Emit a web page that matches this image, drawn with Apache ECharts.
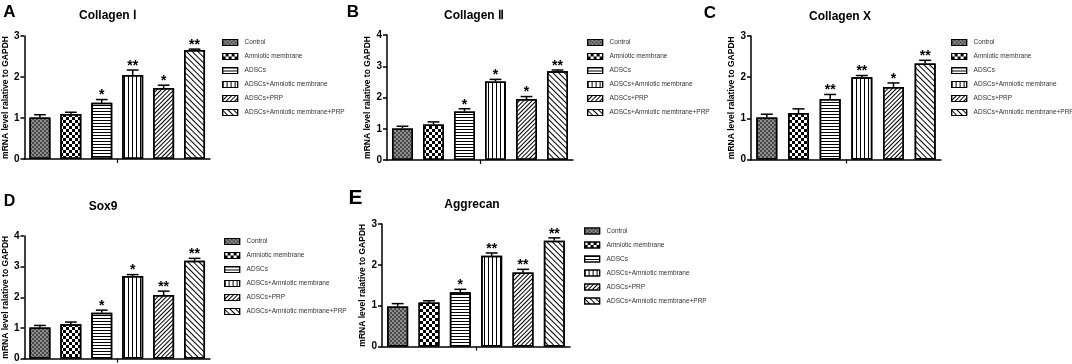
<!DOCTYPE html>
<html><head><meta charset="utf-8">
<script src="https://cdn.jsdelivr.net/npm/echarts@6/dist/echarts.min.js"></script>
<style>html,body{margin:0;padding:0;background:#fff}#c{width:1072px;height:364px}</style>
</head><body><div id="c"></div>
<script>
// ---------- data ----------
const groups = ['Control', 'Amniotic membrane', 'ADSCs', 'ADSCs+Amniotic membrane', 'ADSCs+PRP', 'ADSCs+Amniotic membrane+PRP'];
const panelLetters = ['A', 'B', 'C', 'D', 'E'];
const panelTitles = ['Collagen Ⅰ', 'Collagen Ⅱ', 'Collagen X', 'Sox9', 'Aggrecan'];
const yMaxes = [3, 4, 3, 4, 3];
const yName = 'mRNA level ralative to GAPDH';

const collagen1Mean = [1.01, 1.10, 1.37, 2.05, 1.73, 2.66];
const collagen1Sd   = [0.07, 0.04, 0.08, 0.12, 0.07, 0.02];
const collagen1Sig  = ['', '', '*', '**', '*', '**'];

const collagen2Mean = [1.01, 1.14, 1.55, 2.51, 1.95, 2.84];
const collagen2Sd   = [0.07, 0.08, 0.09, 0.07, 0.08, 0.04];
const collagen2Sig  = ['', '', '*', '*', '*', '**'];

const collagenXMean = [1.02, 1.13, 1.47, 2.00, 1.76, 2.33];
const collagenXSd   = [0.08, 0.10, 0.11, 0.04, 0.10, 0.08];
const collagenXSig  = ['', '', '**', '**', '*', '**'];

const sox9Mean = [1.01, 1.12, 1.49, 2.69, 2.07, 3.19];
const sox9Sd   = [0.07, 0.07, 0.09, 0.05, 0.13, 0.08];
const sox9Sig  = ['', '', '*', '*', '**', '**'];

const aggrecanMean = [0.98, 1.08, 1.33, 2.22, 1.81, 2.59];
const aggrecanSd   = [0.07, 0.04, 0.07, 0.07, 0.08, 0.07];
const aggrecanSig  = ['', '', '*', '**', '**', '**'];

const means = [collagen1Mean, collagen2Mean, collagenXMean, sox9Mean, aggrecanMean];
const sds = [collagen1Sd, collagen2Sd, collagenXSd, sox9Sd, aggrecanSd];
const sigs = [collagen1Sig, collagen2Sig, collagenXSig, sox9Sig, aggrecanSig];

// ---------- layout / style ----------
const FONT = '"Liberation Sans", Arial, sans-serif';
const grids = [
  {left: 23, top: 36, width: 187, height: 123},
  {left: 387, top: 35, width: 186, height: 125},
  {left: 751, top: 36, width: 190, height: 123.5},
  {left: 23, top: 236, width: 187, height: 122.5},
  {left: 382, top: 224, width: 188, height: 122.5}
];
const legendPos = [
  {left: 222, top: 38.5}, {left: 587, top: 38.5}, {left: 951, top: 38.5},
  {left: 224, top: 237.5}, {left: 584, top: 227}
];
const titlePos = [[108, 16], [474, 16], [840, 17], [103, 207], [472, 205]];
const letterPos = [[9.5, 12, 17], [353, 12, 17], [710, 13, 17], [9.5, 202, 16], [355.5, 198, 21]];

const barStyles = [
  {color: '#8e8e8e', decal: {symbol: 'rect', symbolSize: 1, color: '#4a4a4a', dashArrayX: [[2, 2], [0, 2, 2, 0]], dashArrayY: [2, 0]}},
  {color: '#ffffff', decal: {symbol: 'rect', symbolSize: 1, color: '#000', dashArrayX: [[3, 3], [0, 3, 3, 0]], dashArrayY: [3, 0]}},
  {color: '#ffffff', decal: {symbol: 'rect', symbolSize: 1, color: '#000', dashArrayX: [1, 0], dashArrayY: [1, 2]}},
  {color: '#ffffff', decal: {symbol: 'rect', symbolSize: 1, color: '#000', dashArrayX: [[1, 3]], dashArrayY: [1, 0]}},
  {color: '#ffffff', decal: {symbol: 'rect', symbolSize: 1, color: '#000', dashArrayX: [1, 0], dashArrayY: [1, 2], rotation: -Math.PI / 4}},
  {color: '#ffffff', decal: {symbol: 'rect', symbolSize: 1, color: '#000', dashArrayX: [1, 0], dashArrayY: [1, 3], rotation: Math.PI / 4}}
];

const option = {
  animation: false,
  backgroundColor: '#fff',
  grid: grids.map(g => Object.assign({containLabel: false}, g)),
  xAxis: [],
  yAxis: [],
  legend: [],
  series: [],
  graphic: []
};

for (let p = 0; p < 5; p++) {
  option.xAxis.push({
    type: 'category', gridIndex: p, data: groups, position: 'bottom',
    axisLine: {show: true, lineStyle: {color: '#000', width: 1.5}},
    axisTick: {show: false}, axisLabel: {show: false}, splitLine: {show: false}
  });
  option.xAxis.push({
    type: 'category', gridIndex: p, data: [''], position: 'bottom',
    axisLine: {show: false},
    axisTick: {show: true, alignWithLabel: true, length: 4, lineStyle: {color: '#000', width: 1.2}},
    axisLabel: {show: false}, splitLine: {show: false}
  });
  option.yAxis.push({
    type: 'value', gridIndex: p, min: 0, max: yMaxes[p], interval: 1,
    name: yName, nameLocation: 'middle', nameGap: 11,
    nameTextStyle: {fontFamily: FONT, fontWeight: 'bold', fontSize: 8.5, color: '#000'},
    axisLine: {show: true, lineStyle: {color: '#000', width: 1.5}},
    axisTick: {show: true, length: 4, lineStyle: {color: '#000', width: 1.5}},
    axisLabel: {fontFamily: FONT, fontWeight: 'bold', fontSize: 10, color: '#000', margin: 5},
    splitLine: {show: false}
  });
  option.legend.push({
    orient: 'vertical', left: legendPos[p].left, top: legendPos[p].top, padding: 0,
    itemWidth: 15, itemHeight: 6, itemGap: 6, icon: 'rect',
    data: groups, selectedMode: false,
    itemStyle: {borderColor: '#000', borderWidth: 1.2},
    textStyle: {fontFamily: FONT, fontSize: 6.5, color: '#333', lineHeight: 8, padding: [0, 0, 0, 2]}
  });
  groups.forEach((g, i) => {
    option.series.push({
      type: 'bar', name: g, xAxisIndex: p * 2, yAxisIndex: p, stack: 'panel' + p,
      barWidth: 21,
      data: groups.map((_, j) => j === i ? means[p][j] : '-'),
      itemStyle: {color: barStyles[i].color, borderColor: '#000', borderWidth: 1.5, decal: barStyles[i].decal},
      emphasis: {disabled: true}, silent: true
    });
  });
  const sigArr = sigs[p];
  option.series.push({
    type: 'custom', name: 'err' + p, xAxisIndex: p * 2, yAxisIndex: p, silent: true, z: 5,
    data: groups.map((_, i) => [i, means[p][i], sds[p][i]]),
    renderItem: function (params, api) {
      const x = api.value(0), m = api.value(1), s = api.value(2);
      const p0 = api.coord([x, m]);
      const p1 = api.coord([x, m + s]);
      const half = api.size([1, 0])[0] * 0.19;
      const ls = {stroke: '#000', lineWidth: 1.5};
      return {
        type: 'group',
        children: [
          {type: 'line', shape: {x1: p0[0], y1: p0[1], x2: p1[0], y2: p1[1]}, style: ls},
          {type: 'line', shape: {x1: p1[0] - half, y1: p1[1], x2: p1[0] + half, y2: p1[1]}, style: ls},
          {type: 'text', x: p1[0], y: p1[1] - 4,
           style: {text: sigArr[params.dataIndex], align: 'center', verticalAlign: 'middle',
                   textAlign: 'center', textVerticalAlign: 'middle',
                   font: 'bold 14px ' + FONT, fill: '#000'}}
        ]
      };
    }
  });
  option.graphic.push({
    type: 'text', x: titlePos[p][0], y: titlePos[p][1], silent: true,
    style: {text: panelTitles[p], font: 'bold 12px ' + FONT, fill: '#000', align: 'center', verticalAlign: 'middle'}
  });
  option.graphic.push({
    type: 'text', x: letterPos[p][0], y: letterPos[p][1], silent: true,
    style: {text: panelLetters[p], font: 'bold ' + letterPos[p][2] + 'px ' + FONT, fill: '#000', align: 'center', verticalAlign: 'middle'}
  });
}

const chart = echarts.init(document.getElementById('c'), null, {renderer: 'canvas'});
chart.setOption(option);
</script>
</body></html>
